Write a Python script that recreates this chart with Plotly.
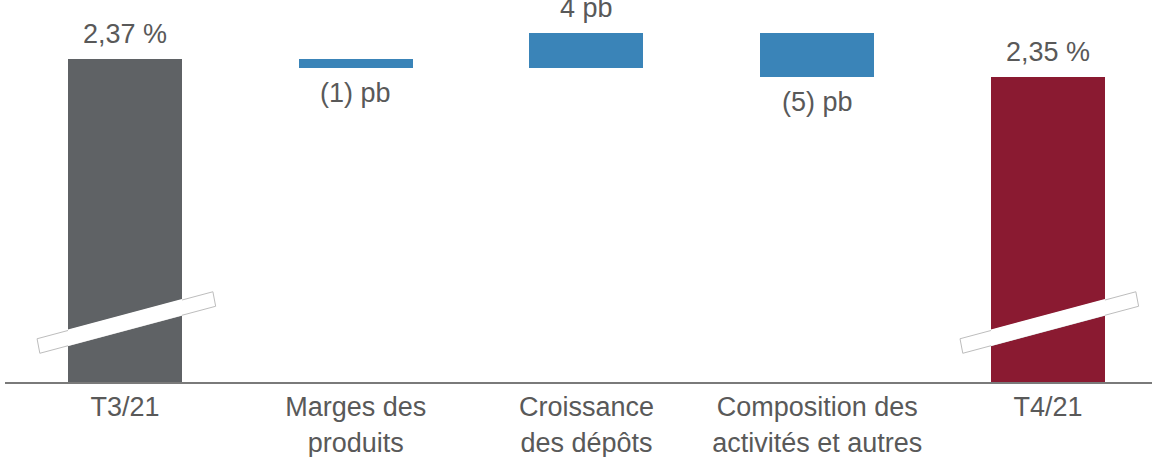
import plotly.graph_objects as go

categories = ["T3/21", "Marges des<br>produits", "Croissance<br>des dépôts",
              "Composition des<br>activités et autres", "T4/21"]
start_value = 2.37          # %
deltas_pb = [-1, 4, -5]     # points de base
end_value = 2.35            # %
value_labels = ["2,37 %", "(1) pb", "4 pb", "(5) pb", "2,35 %"]

GRAY = "#5f6265"
BLUE = "#3a84b8"
MAROON = "#8a1a31"
TEXT = "#595959"
FONT = "Liberation Sans, Arial, sans-serif"

y_min, y_max = 2.0034, 2.4375
xs = list(range(len(categories)))
bar_w = 0.494

# compute bar bases / lengths
bases, lengths, colors = [], [], []
bases.append(y_min); lengths.append(start_value - y_min); colors.append(GRAY)
cum = start_value
for d in deltas_pb:
    dv = d / 100.0
    bases.append(cum); lengths.append(dv); colors.append(BLUE)
    cum += dv
bases.append(y_min); lengths.append(end_value - y_min); colors.append(MAROON)

fig = go.Figure()
fig.add_trace(go.Bar(
    x=xs, y=lengths, base=bases, width=bar_w,
    marker=dict(color=colors, line=dict(width=0)),
    hoverinfo="skip", showlegend=False,
))

annotations = []
for i, (b, l, t) in enumerate(zip(bases, lengths, value_labels)):
    top = b + l
    if l >= 0:
        annotations.append(dict(x=xs[i], y=top, xref="x", yref="y", text=t,
                                showarrow=False, yanchor="bottom", yshift=8,
                                font=dict(family=FONT, size=27, color=TEXT)))
    else:
        annotations.append(dict(x=xs[i], y=top, xref="x", yref="y", text=t,
                                showarrow=False, yanchor="top", yshift=-8,
                                font=dict(family=FONT, size=27, color=TEXT)))

# axis-break marks on the two total bars
shapes = []
for i in (0, len(categories) - 1):
    cx = xs[i]
    yl, yr, th = 2.0443, 2.0977, 0.0165
    dx = 0.381
    path = (f"M {cx-dx},{yl+th/2} L {cx+dx},{yr+th/2} "
            f"L {cx+dx+0.012},{yr-th/2} L {cx-dx+0.012},{yl-th/2} Z")
    shapes.append(dict(type="path", path=path, xref="x", yref="y",
                       fillcolor="white", line=dict(color="#bdbdbd", width=1)))
    # white cover inside the bar (no outline visible over the bar)
    hw = bar_w / 2
    slope = (yr - yl) / (2 * dx)
    y_a = yl + slope * (dx - hw)
    y_b = yl + slope * (dx + hw)
    t2 = th * 0.5 + 0.0012
    path2 = (f"M {cx-hw},{y_a+t2} L {cx+hw},{y_b+t2} "
             f"L {cx+hw},{y_b-t2} L {cx-hw},{y_a-t2} Z")
    shapes.append(dict(type="path", path=path2, xref="x", yref="y",
                       fillcolor="white", line=dict(width=0)))

fig.update_layout(
    width=1152, height=457,
    margin=dict(l=5, r=0, t=0, b=75),
    paper_bgcolor="white", plot_bgcolor="white",
    bargap=0,
    font=dict(family=FONT, size=27, color=TEXT),
    annotations=annotations, shapes=shapes,
    xaxis=dict(range=[-0.52, 4.451], tickmode="array", tickvals=xs,
               ticktext=categories, showgrid=False, zeroline=False,
               showline=True, linecolor="#7a7a7a", linewidth=2, ticks="",
               tickfont=dict(family=FONT, size=27, color=TEXT), fixedrange=True),
    yaxis=dict(range=[y_min, y_max], visible=False, showgrid=False,
               zeroline=False, fixedrange=True),
)

fig.write_html("out.html", config={"displayModeBar": False},
               post_script="document.body.style.margin='0';document.body.style.overflow='hidden';")
